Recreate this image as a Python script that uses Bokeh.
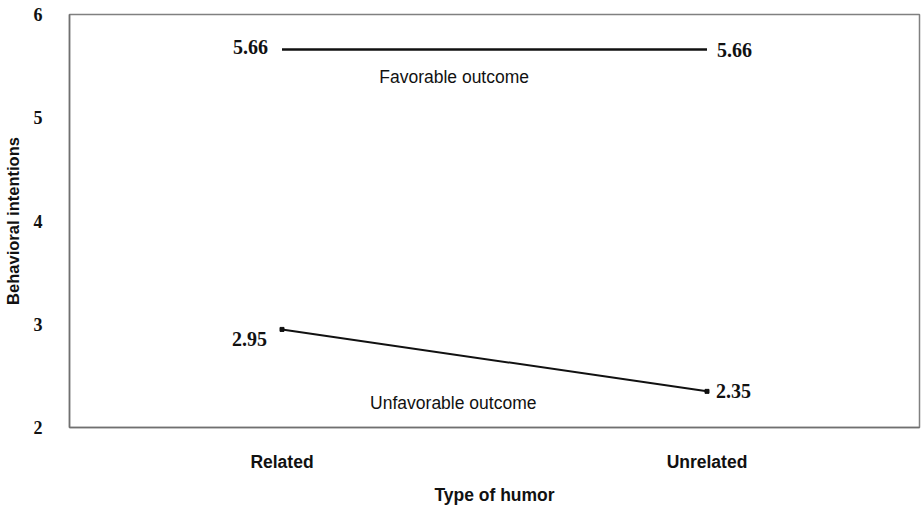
from bokeh.plotting import figure
from bokeh.models import Range1d, FixedTicker, Label
from bokeh.embed import file_html
from bokeh.resources import INLINE

categories = ["Related", "Unrelated"]
favorable = [5.66, 5.66]
unfavorable = [2.95, 2.35]
y_ticks = [2, 3, 4, 5, 6]

xs = [0.5, 1.5]
SANS = "Liberation Sans"

p = figure(width=922, height=507, output_backend="svg", toolbar_location=None,
           x_range=Range1d(0, 2), y_range=Range1d(2, 6),
           min_border_left=20, min_border_right=3, min_border_top=14, min_border_bottom=4)
p.grid.visible = False
p.outline_line_color = "#808080"
p.outline_line_width = 1.5

p.xaxis.ticker = FixedTicker(ticks=xs)
p.xaxis.major_label_overrides = {x: c for x, c in zip(xs, categories)}
p.yaxis.ticker = FixedTicker(ticks=y_ticks)
for ax in (p.xaxis, p.yaxis):
    ax.major_tick_line_color = None
    ax.minor_tick_line_color = None
    ax.axis_line_color = "#707070"
    ax.axis_line_width = 1.5

p.xaxis.major_label_text_font = SANS
p.xaxis.major_label_text_font_style = "bold"
p.xaxis.major_label_text_font_size = "17.5px"
p.xaxis.major_label_text_color = "#111111"
p.xaxis.major_label_standoff = 18
p.xaxis.axis_label = "Type of humor"
p.xaxis.axis_label_text_font = SANS
p.xaxis.axis_label_text_font_style = "bold"
p.xaxis.axis_label_text_font_size = "17.5px"
p.xaxis.axis_label_text_color = "#111111"
p.xaxis.axis_label_standoff = 10

p.yaxis.major_label_text_font = "Liberation Serif"
p.yaxis.major_label_text_font_style = "bold"
p.yaxis.major_label_text_font_size = "18px"
p.yaxis.major_label_text_color = "#111111"
p.yaxis.major_label_standoff = 21
p.yaxis.axis_label = "Behavioral intentions"
p.yaxis.axis_label_text_font = SANS
p.yaxis.axis_label_text_font_style = "bold"
p.yaxis.axis_label_text_font_size = "16.5px"
p.yaxis.axis_label_text_color = "#111111"
p.yaxis.axis_label_standoff = 9

p.line(xs, favorable, line_color="#111111", line_width=2.5)
p.line(xs, unfavorable, line_color="#111111", line_width=2)
p.scatter(xs, unfavorable, marker="square", size=4, color="#111111")

def val_label(x, y, txt, align, xoff, yoff):
    p.add_layout(Label(x=x, y=y, text=txt, text_align=align, text_baseline="middle",
                       x_offset=xoff, y_offset=yoff, text_font="Liberation Serif",
                       text_font_style="bold", text_font_size="20px", text_color="#111111"))

val_label(xs[0], favorable[0], f"{favorable[0]:.2f}", "right", -14, 3)
val_label(xs[1], favorable[1], f"{favorable[1]:.2f}", "left", 10, 0)
val_label(xs[0], unfavorable[0], f"{unfavorable[0]:.2f}", "right", -15, -10)
val_label(xs[1], unfavorable[1], f"{unfavorable[1]:.2f}", "left", 9, 0)

for txt, x, y in [("Favorable outcome", 0.905, 5.39), ("Unfavorable outcome", 0.903, 2.242)]:
    p.add_layout(Label(x=x, y=y, text=txt, text_align="center", text_baseline="middle",
                       text_font=SANS, text_font_size="17.5px", text_color="#111111"))

open("out.html", "w").write(file_html(p, INLINE))
